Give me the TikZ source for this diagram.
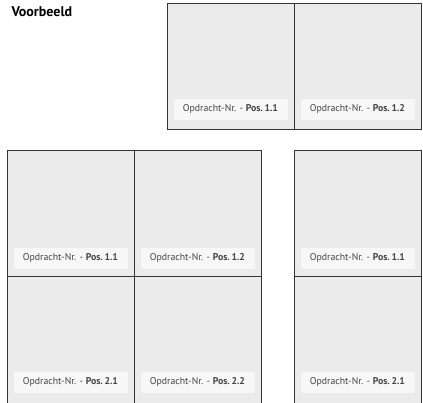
\documentclass[tikz,border=0pt]{standalone}
\usepackage{fontspec}
\setmainfont{PT Sans}
\usepackage{xcolor}
\usepackage{tikz}
\usetikzlibrary{positioning}
\definecolor{cellgray}{HTML}{EBEBEB}
\definecolor{tagfill}{HTML}{F7F7F7}
\definecolor{tagtext}{HTML}{444444}
\definecolor{framegray}{HTML}{333333}
\tikzset{
  cell/.style={draw=framegray, fill=cellgray, line width=1pt, inner sep=0pt, outer sep=0pt, minimum width=127pt, minimum height=126pt},
  tag/.style={fill=tagfill, text=tagtext, font=\fontsize{9.8}{11}\selectfont, inner sep=0pt, minimum width=114pt, minimum height=21pt},
  titletext/.style={font=\bfseries\fontsize{14}{16}\selectfont, anchor=west}
}

\begin{document}
\begin{tikzpicture}[x=1pt,y=-1pt]
\useasboundingbox (0,0) rectangle (423,403);
\clip (0,0) rectangle (423,403);
\node[titletext] (title) at (8,12) {Voorbeeld};
% top pair
\node[cell, anchor=north west] (t1) at (167,4) {};
\node[cell, right=0pt of t1] (t2) {};
\node[tag, above=10pt of t1.south] (t1tag) {Opdracht-Nr. - \textbf{Pos.\,1.1}};
\node[tag, above=10pt of t2.south] (t2tag) {Opdracht-Nr. - \textbf{Pos.\,1.2}};
% left block
\node[cell, anchor=north west] (a1) at (7,151) {};
\node[cell, right=0pt of a1] (a2) {};
\node[cell, below=0pt of a1] (b1) {};
\node[cell, right=0pt of b1] (b2) {};
\node[tag, above=8pt of a1.south] (a1tag) {Opdracht-Nr. - \textbf{Pos.\,1.1}};
\node[tag, above=8pt of a2.south] (a2tag) {Opdracht-Nr. - \textbf{Pos.\,1.2}};
\node[tag, above=10pt of b1.south] (b1tag) {Opdracht-Nr. - \textbf{Pos.\,2.1}};
\node[tag, above=10pt of b2.south] (b2tag) {Opdracht-Nr. - \textbf{Pos.\,2.2}};
% right column
\node[cell, anchor=north west] (r1) at (294,151) {};
\node[cell, below=0pt of r1] (r2) {};
\node[tag, above=8pt of r1.south] (r1tag) {Opdracht-Nr. - \textbf{Pos.\,1.1}};
\node[tag, above=10pt of r2.south] (r2tag) {Opdracht-Nr. - \textbf{Pos.\,2.1}};
\end{tikzpicture}
\end{document}
